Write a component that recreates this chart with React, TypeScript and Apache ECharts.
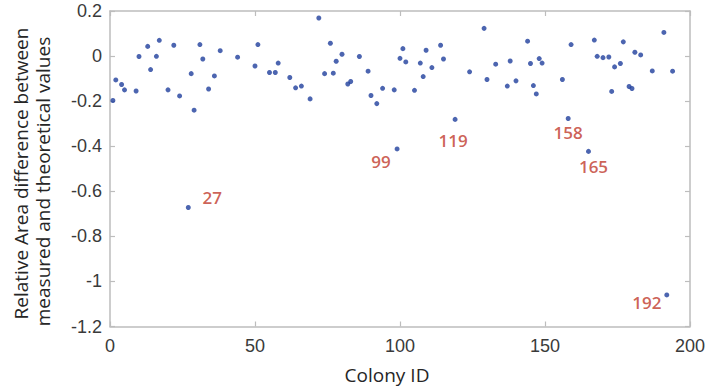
import React, { useEffect, useRef } from "react";
import * as echarts from "echarts";

// Colony IDs and relative area differences
const colonyIds: number[] = [
  1, 2, 4, 5, 9, 10, 13, 14, 16, 17, 20, 22, 24, 27, 28, 29, 31, 32, 34, 36, 38, 44, 50, 51,
  55, 57, 58, 62, 64, 66, 69, 72, 74, 76, 77, 78, 80, 82, 83, 86, 89, 90, 92, 94, 98, 99, 100, 101, 102,
  105, 107, 108, 109, 111, 114, 115, 119, 124, 129, 130, 133, 137, 138, 140, 144, 145, 146, 147, 148, 149,
  156, 158, 159, 165, 167, 168, 170, 172, 173, 174, 176, 177, 179, 180, 181, 183, 187, 191, 192, 194,
];
const relDiff: number[] = [
  -0.197, -0.106, -0.126, -0.15, -0.155, -0.002, 0.043, -0.06, -0.001, 0.07, -0.15, 0.048, -0.177, -0.672, -0.078, -0.24, 0.051, -0.013, -0.146, -0.088, 0.024, -0.005, -0.044, 0.051,
  -0.073, -0.073, -0.031, -0.095, -0.141, -0.133, -0.19, 0.169, -0.078, 0.057, -0.076, -0.023, 0.008, -0.124, -0.113, -0.002, -0.067, -0.175, -0.211, -0.143, -0.15, -0.412, -0.01, 0.033, -0.026,
  -0.152, -0.031, -0.091, 0.026, -0.051, 0.048, -0.013, -0.281, -0.07, 0.123, -0.104, -0.036, -0.133, -0.022, -0.11, 0.066, -0.033, -0.131, -0.168, -0.011, -0.031,
  -0.104, -0.277, 0.051, -0.423, 0.071, -0.001, -0.007, -0.004, -0.157, -0.048, -0.033, 0.063, -0.135, -0.144, 0.017, 0.005, -0.066, 0.105, -1.06, -0.067,
];
const labeledIds: number[] = [27, 99, 119, 158, 165, 192];

const xTitle = "Colony ID";
const yTitleLines: string[] = ["Relative Area difference between", "measured and theoretical values"];

// label placement (style only)
const labelOffsets: Record<number, [number, number]> = {
  27: [24, -10],
  99: [-16, 13],
  119: [-2, 21],
  158: [0, 14],
  165: [5, 15],
  192: [-20, 8],
};

const AXIS_COLOR = "#bdbdbd";
const TEXT_COLOR = "#3a3a3a";
const DOT_COLOR = "#1f3f9c";
const LABEL_COLOR = "#c0392b";

export default function App() {
  const ref = useRef<HTMLDivElement>(null);
  useEffect(() => {
    if (!ref.current) return;
    const chart = echarts.init(ref.current, undefined, { renderer: "svg" });
    const data = colonyIds.map((id, i) => {
      const item: any = { value: [id, relDiff[i]] };
      if (labeledIds.includes(id)) {
        item.label = {
          show: true,
          position: "inside",
          offset: labelOffsets[id],
          formatter: String(id),
          color: LABEL_COLOR,
          fontFamily: "Open Sans",
          fontWeight: 600,
          fontSize: 17,
        };
      }
      return item;
    });
    const baseAxis = {
      axisLine: { show: true, onZero: false, lineStyle: { color: AXIS_COLOR, width: 1.5 } },
      axisTick: { show: true, inside: true, length: 5, lineStyle: { color: AXIS_COLOR, width: 1.2 } },
      splitLine: { show: false },
    };
    chart.setOption({
      animation: false,
      backgroundColor: "#ffffff",
      grid: { left: 110, right: 17, top: 11, bottom: 63.5, containLabel: false },
      xAxis: [
        {
          ...baseAxis,
          type: "value",
          position: "bottom",
          min: 0,
          max: 200,
          interval: 50,
          axisLabel: { color: TEXT_COLOR, fontSize: 18, fontFamily: "Liberation Sans", margin: 10 },
        },
        {
          ...baseAxis,
          type: "value",
          position: "top",
          min: 0,
          max: 200,
          interval: 50,
          axisLabel: { show: false },
        },
      ],
      yAxis: [
        {
          ...baseAxis,
          type: "value",
          position: "left",
          min: -1.2,
          max: 0.2,
          interval: 0.2,
          axisLabel: {
            color: TEXT_COLOR,
            fontSize: 18,
            fontFamily: "Liberation Sans",
            margin: 8,
            formatter: (v: number) => String(Math.round(v * 10) / 10),
          },
        },
        {
          ...baseAxis,
          type: "value",
          position: "right",
          min: -1.2,
          max: 0.2,
          interval: 0.2,
          axisLabel: { show: false },
        },
      ],
      series: [
        {
          type: "scatter",
          xAxisIndex: 0,
          yAxisIndex: 0,
          symbol: "circle",
          symbolSize: 5,
          itemStyle: { color: DOT_COLOR },
          data,
        },
      ],
      graphic: [
        {
          type: "text",
          x: 387,
          y: 375,
          style: {
            text: xTitle,
            fill: "#262626",
            font: "19px 'Open Sans'",
            align: "center",
            verticalAlign: "middle",
          },
        },
        {
          type: "text",
          x: 20.6,
          y: 173.5,
          rotation: Math.PI / 2,
          style: {
            text: yTitleLines[0],
            fill: "#262626",
            font: "19px 'Open Sans'",
            align: "center",
            verticalAlign: "middle",
          },
        },
        {
          type: "text",
          x: 43,
          y: 181.5,
          rotation: Math.PI / 2,
          style: {
            text: yTitleLines[1],
            fill: "#262626",
            font: "19px 'Open Sans'",
            align: "center",
            verticalAlign: "middle",
          },
        },
      ],
    });
    return () => chart.dispose();
  }, []);
  return (
    <div
      ref={ref}
      style={{ position: "absolute", left: 0, top: 0, width: 708, height: 390, background: "#fff" }}
    />
  );
}
